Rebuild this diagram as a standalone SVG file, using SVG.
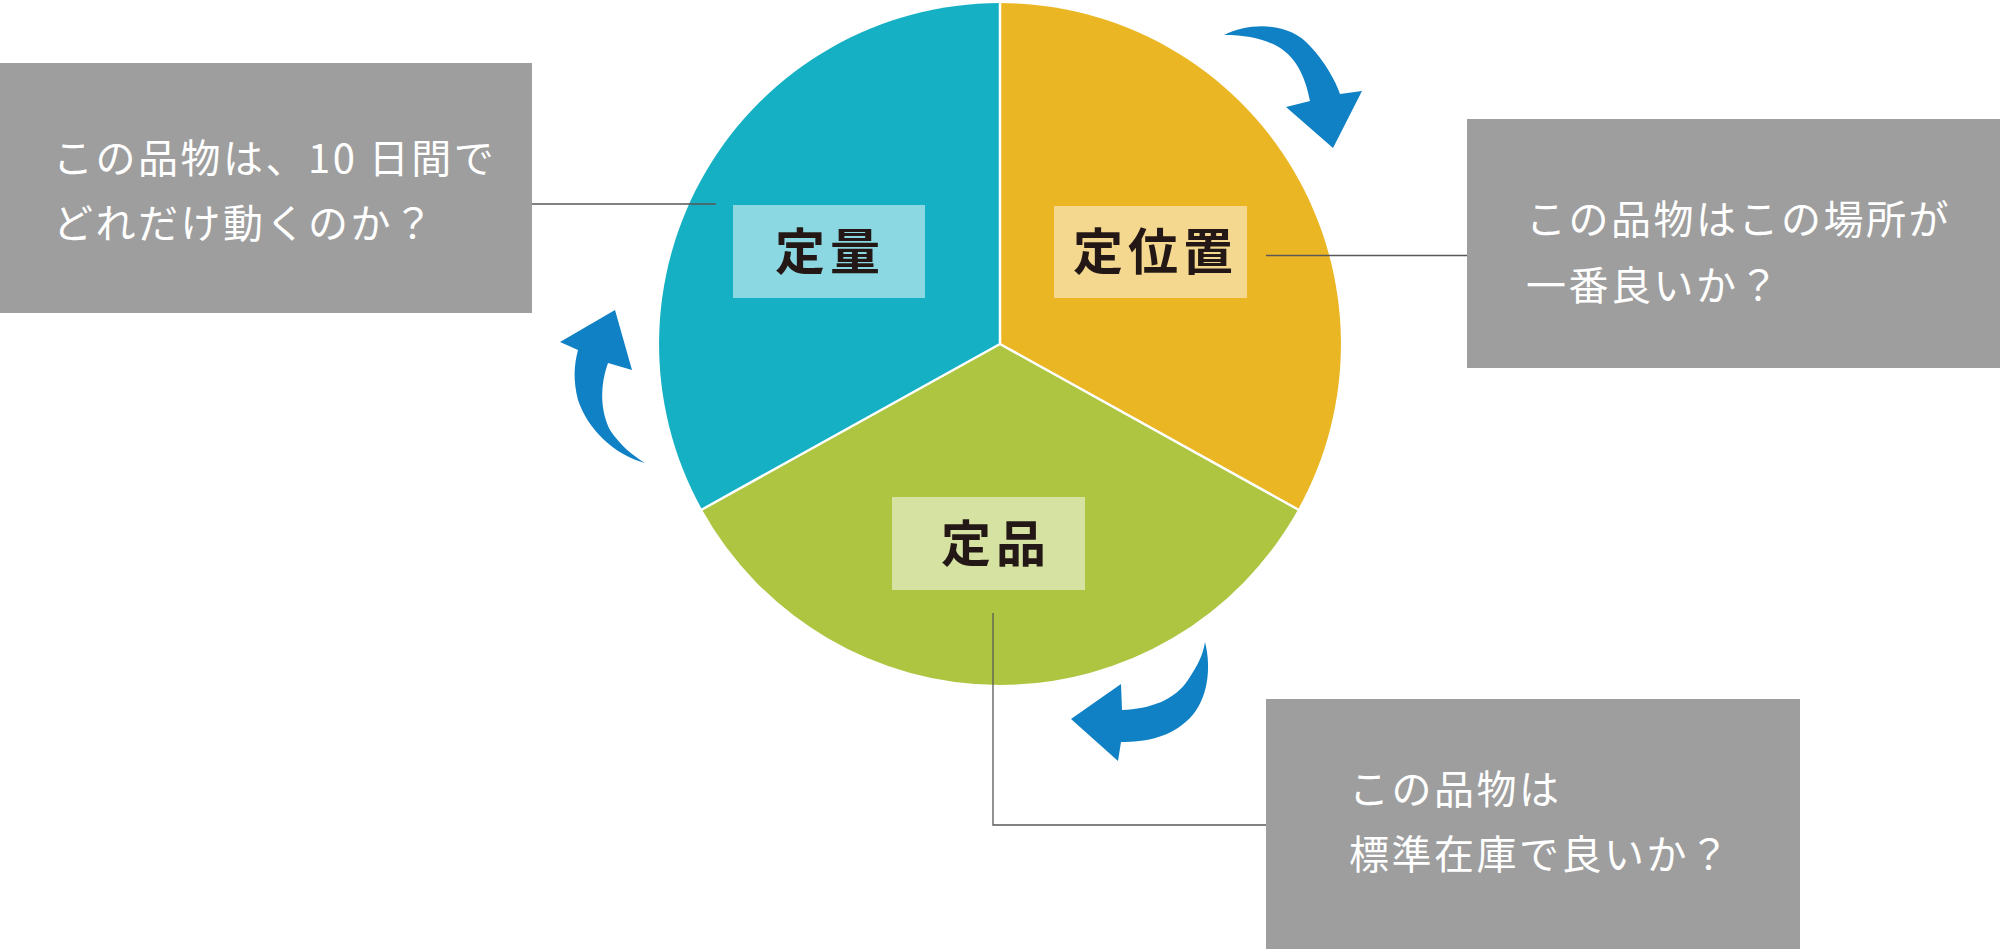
<svg xmlns="http://www.w3.org/2000/svg" width="2000" height="950" viewBox="0 0 2000 950">
<style>
.q{fill:#9e9e9e}
.qt{font-family:"Noto Sans CJK JP","Noto Sans",sans-serif;font-size:40px;fill:#ffffff;letter-spacing:2.5px}
.lb{font-family:"Noto Sans CJK JP","Noto Sans",sans-serif;font-size:50px;font-weight:bold;fill:#231815;letter-spacing:5px;text-anchor:middle}
.sep{stroke:#ffffff;stroke-width:2.5;fill:none}
.con{stroke:#595757;stroke-width:1.3;fill:none}
.arr{fill:#1181c5}
</style>
<rect width="2000" height="950" fill="#ffffff"/>
<g id="pie">
<path d="M1000,344 L1000,3 A341,341 0 0 0 701.8,509.3 Z" fill="#15b0c3"/>
<path d="M1000,344 L1000,3 A341,341 0 0 1 1298.2,509.3 Z" fill="#ebb624"/>
<path d="M1000,344 L701.8,509.3 A341,341 0 0 0 1298.2,509.3 Z" fill="#aec541"/>
<line class="sep" x1="1000" y1="344" x2="1000" y2="2"/>
<line class="sep" x1="1000" y1="344" x2="701" y2="510"/>
<line class="sep" x1="1000" y1="344" x2="1299" y2="510"/>
</g>
<g id="connectors">
<polyline class="con" points="532,204 716,204"/>
<polyline class="con" points="1266,255.5 1467,255.5"/>
<polyline class="con" points="993,613 993,825 1266,825"/>
</g>
<g id="arrows">
<path class="arr" d="M1224,35 C1250,22 1290,22 1310,46 C1325,62 1335,80 1340,94 L1362,91 L1333,148 L1286,107 L1310,101 C1305,75 1295,55 1275,45 C1260,38 1245,35 1224,35 Z"/>
<path class="arr" d="M1205,642 C1212,670 1207,700 1190,718 C1170,738 1145,742 1121,742 L1118,761 L1071,719 L1121,684 L1122,710 C1150,709 1175,700 1188,680 C1198,665 1203,655 1205,642 Z"/>
<path class="arr" d="M645,463 C615,455 588,430 578,400 C573,380 574,365 578,350 L560,342 L615,310 L632,370 L608,363 C600,385 600,410 610,430 C620,445 632,455 645,463 Z"/>
</g>
<g id="label-teiryo">
<rect x="733" y="205" width="192" height="93" fill="#8bd8e2"/>
<text class="lb" x="830" y="270">定量</text>
</g>
<g id="label-teiichi">
<rect x="1054" y="206" width="193" height="92" fill="#f5d88f"/>
<text class="lb" x="1155.5" y="270">定位置</text>
</g>
<g id="label-teihin">
<rect x="892" y="497" width="193" height="93" fill="#d6e2a1"/>
<text class="lb" x="996" y="562">定品</text>
</g>
<g id="box-left">
<rect class="q" x="0" y="63" width="532" height="250"/>
<text class="qt" x="53" y="173">この品物は、10 日間で</text>
<text class="qt" x="53" y="238">どれだけ動くのか？</text>
</g>
<g id="box-right">
<rect class="q" x="1467" y="119" width="533" height="249"/>
<text class="qt" x="1526" y="234">この品物はこの場所が</text>
<text class="qt" x="1526" y="300">一番良いか？</text>
</g>
<g id="box-bottom">
<rect class="q" x="1266" y="699" width="534" height="250"/>
<text class="qt" x="1349" y="804">この品物は</text>
<text class="qt" x="1349" y="869">標準在庫で良いか？</text>
</g>
</svg>
